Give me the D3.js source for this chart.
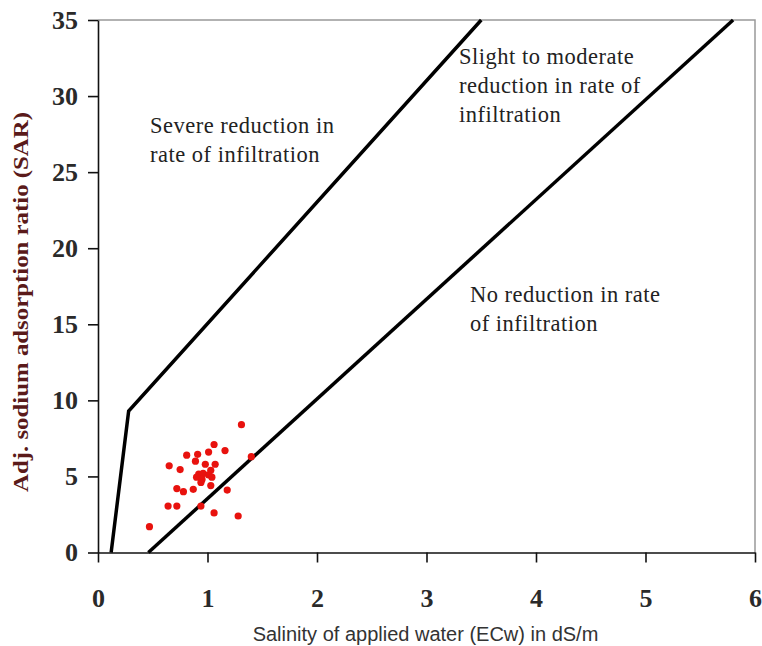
<!DOCTYPE html>
<html>
<head>
<meta charset="utf-8">
<script src="https://cdn.jsdelivr.net/npm/d3@7"></script>
<style>
  body { margin: 0; background: #fff; }
</style>
</head>
<body>
<div id="chart"></div>
<script>
// scatter samples: ECw (dS/m) and adj. SAR
const ecw = [1.31, 1.06, 1.16, 0.81, 0.91, 1.01, 0.89, 0.98, 1.07, 0.65, 0.75, 1.03,
             0.92, 0.96, 0.90, 0.95, 0.94, 1.01, 1.04, 1.03, 0.72, 0.78, 0.87, 1.18,
             1.40, 0.64, 0.72, 0.94, 1.06, 1.28, 0.47];
const sar = [8.4, 7.1, 6.7, 6.4, 6.45, 6.6, 6.0, 5.8, 5.8, 5.7, 5.45, 5.4,
             5.15, 5.2, 4.95, 4.8, 4.6, 5.1, 4.95, 4.4, 4.2, 4.0, 4.15, 4.1,
             6.3, 3.05, 3.05, 3.05, 2.6, 2.4, 1.7];

// boundary lines
const severeX = [0.12, 0.28, 3.50];
const severeY = [0, 9.3, 35];
const noneX = [0.46, 5.80];
const noneY = [0, 35];

const xTicks = [0, 1, 2, 3, 4, 5, 6];
const yTicks = [0, 5, 10, 15, 20, 25, 30, 35];

const width = 762, height = 646;
const margin = {top: 20, right: 7, bottom: 93.5, left: 98};

const svg = d3.select('#chart').append('svg')
    .attr('width', width).attr('height', height);

const x = d3.scaleLinear().domain([0, 6]).range([margin.left, width - margin.right]);
const y = d3.scaleLinear().domain([0, 35]).range([height - margin.bottom, margin.top]);

// top / right frame
svg.append('path')
    .attr('d', `M${x(0)},${y(35)}H${x(6)}V${y(0)}`)
    .attr('fill', 'none')
    .attr('stroke', '#999')
    .attr('stroke-width', 1.5);

// axes
const xAxis = svg.append('g')
    .attr('transform', `translate(0,${y(0)})`)
    .call(d3.axisBottom(x).tickValues(xTicks).tickFormat(d3.format('d'))
        .tickSize(10).tickPadding(26).tickSizeOuter(0));
const yAxis = svg.append('g')
    .attr('transform', `translate(${x(0)},0)`)
    .call(d3.axisLeft(y).tickValues(yTicks).tickFormat(d3.format('d'))
        .tickSize(10).tickPadding(10).tickSizeOuter(0));

[xAxis, yAxis].forEach(g => {
    g.select('.domain').attr('stroke', '#111').attr('stroke-width', 1.6);
    g.selectAll('.tick line').attr('stroke', '#111').attr('stroke-width', 1.6);
    g.selectAll('.tick text')
        .style('font-family', '"Liberation Serif", "Times New Roman", serif')
        .style('font-size', '26px')
        .style('font-weight', 'bold')
        .attr('fill', '#2a2a2a');
});

// boundaries
const line = d3.line().x(d => x(d[0])).y(d => y(d[1]));
svg.append('path')
    .datum(d3.zip(severeX, severeY))
    .attr('fill', 'none').attr('stroke', '#000').attr('stroke-width', 3.5)
    .attr('stroke-linejoin', 'miter')
    .attr('d', line);
svg.append('path')
    .datum(d3.zip(noneX, noneY))
    .attr('fill', 'none').attr('stroke', '#000').attr('stroke-width', 3.5)
    .attr('d', line);

// points
svg.append('g').selectAll('circle')
    .data(d3.zip(ecw, sar))
    .enter().append('circle')
    .attr('cx', d => x(d[0]))
    .attr('cy', d => y(d[1]))
    .attr('r', 3.6)
    .attr('fill', '#e8120e');

// region labels
const notes = [
    {lines: ['Severe reduction in', 'rate of infiltration'], x: 150, y: 133},
    {lines: ['Slight to moderate', 'reduction in rate of', 'infiltration'], x: 459, y: 64},
    {lines: ['No reduction in rate', 'of infiltration'], x: 470, y: 302}
];
notes.forEach(n => {
    svg.append('text')
        .attr('x', n.x).attr('y', n.y)
        .style('font-family', '"Liberation Serif", "Times New Roman", serif')
        .style('font-size', '22.5px')
        .style('letter-spacing', '0.5px')
        .attr('fill', '#222')
        .selectAll('tspan')
        .data(n.lines)
        .enter().append('tspan')
        .attr('x', n.x)
        .attr('dy', (d, i) => i === 0 ? 0 : 29)
        .text(d => d);
});

// axis titles
svg.append('text')
    .attr('x', (x(0) + x(6)) / 2 - 1)
    .attr('y', 641)
    .attr('text-anchor', 'middle')
    .style('font-family', '"Liberation Sans", Arial, sans-serif')
    .style('font-size', '20px')
    .attr('fill', '#333')
    .text('Salinity of applied water (ECw) in dS/m');

svg.append('text')
    .attr('transform', `translate(28,302) rotate(-90)`)
    .attr('text-anchor', 'middle')
    .attr('textLength', 380)
    .attr('lengthAdjust', 'spacingAndGlyphs')
    .style('font-family', '"Liberation Serif", "Times New Roman", serif')
    .style('font-size', '22px')
    .style('font-weight', 'bold')
    .attr('fill', '#5a1a1a')
    .text('Adj. sodium adsorption ratio (SAR)');
</script>
</body>
</html>
